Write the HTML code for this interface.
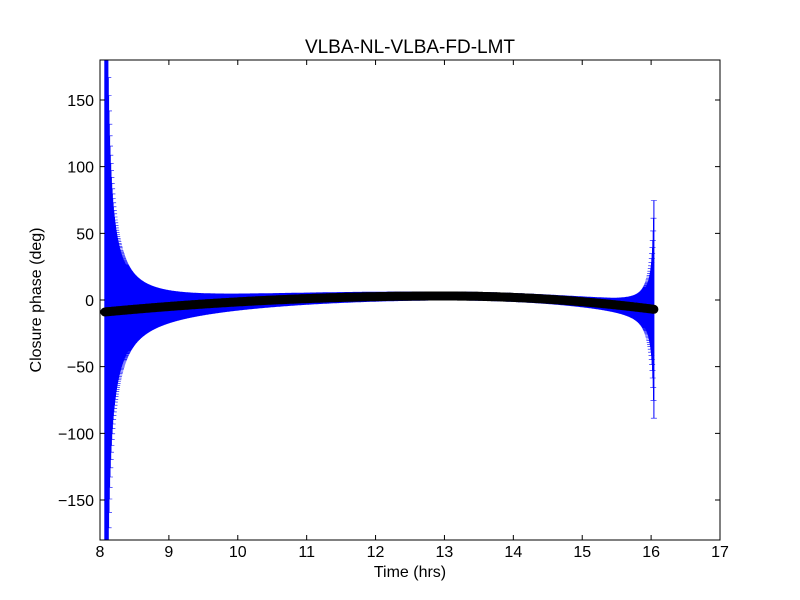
<!DOCTYPE html>
<html><head><meta charset="utf-8"><style>
html,body{margin:0;background:#fff;overflow:hidden;width:800px;height:600px;}
svg{display:block;font-family:"Liberation Sans","DejaVu Sans",sans-serif;}
</style></head><body>
<svg id="s" width="800" height="600" viewBox="0 0 800 600" xmlns="http://www.w3.org/2000/svg">
<rect width="800" height="600" fill="#fff"/>
<defs><clipPath id="c"><rect x="100" y="60" width="620" height="480"/></clipPath></defs>
<g id="plot" clip-path="url(#c)"></g>
<rect x="100" y="60" width="620" height="480" fill="none" stroke="#000" stroke-width="1"/>
<g id="ticks" stroke="#000" stroke-width="1"></g>
<g id="lbl" font-size="16" fill="#000"></g>
<text x="410" y="53" font-size="19" text-anchor="middle">VLBA-NL-VLBA-FD-LMT</text>
<text x="410" y="577" font-size="16" text-anchor="middle">Time (hrs)</text>
<text x="41" y="300" font-size="16" text-anchor="middle" transform="rotate(-90 41 300)">Closure phase (deg)</text>
</svg>
<script>
var NS="http://www.w3.org/2000/svg";
function X(t){return 100+(t-8)*620/9;}
function Y(v){return 300-v*480/360;}
function ph(t){return t<13?3-12*Math.pow((t-13)/4.93,2):3-10*Math.pow((t-13)/3.04,2);}
function er(t){return 10.5/(t-8.06)+2/(16.065-t)+0.3;}
var p="",caps="",mk="";
for(var t=8.07;t<=16.041;t+=0.005){
 var v=ph(t),e=er(t),x=X(t).toFixed(1),y1=Y(v+e).toFixed(1),y2=Y(v-e).toFixed(1);
 p+="M"+x+" "+y1+"V"+y2;
 caps+="M"+(X(t)-3).toFixed(1)+" "+y1+"h6M"+(X(t)-3).toFixed(1)+" "+y2+"h6";
 mk+="M"+x+" "+Y(v).toFixed(1)+"h0";
}
var g=document.getElementById("plot");
function path(d,s,w,cap){var e=document.createElementNS(NS,"path");e.setAttribute("d",d);e.setAttribute("stroke",s);e.setAttribute("stroke-width",w);e.setAttribute("fill","none");if(cap)e.setAttribute("stroke-linecap",cap);g.appendChild(e);}
path(p,"#0000ff",1);path(caps,"#0000ff",0.6);path(mk,"#000",9,"round");
var tk="",L=document.getElementById("lbl"),lb="";
for(var i=8;i<=17;i++){var x=X(i);tk+="M"+x+" 540v-5M"+x+" 60v5";lb+='<text x="'+x+'" y="557" text-anchor="middle">'+i+'</text>';}
for(var v=-150;v<=150;v+=50){var y=Y(v);tk+="M100 "+y+"h5M720 "+y+"h-5";lb+='<text x="94" y="'+(y+6)+'" text-anchor="end">'+(v<0?"\u2212"+(-v):v)+'</text>';}
var te=document.createElementNS(NS,"path");te.setAttribute("d",tk);document.getElementById("ticks").appendChild(te);
L.innerHTML=lb;
</script>
</body></html>
